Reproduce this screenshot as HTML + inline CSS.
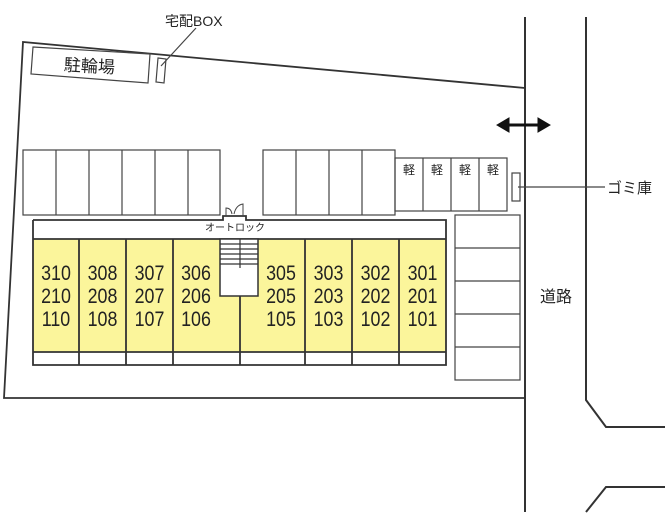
<!DOCTYPE html>
<html><head><meta charset="utf-8"><style>
html,body{margin:0;padding:0;background:#fff;}
svg{display:block;}
text{font-family:"Liberation Sans","Noto Sans CJK JP",sans-serif;fill:#222;}
</style></head><body>
<svg width="670" height="525" viewBox="0 0 670 525" xmlns="http://www.w3.org/2000/svg">
<g fill="none" stroke="#333" stroke-width="2">
<line x1="525" y1="17" x2="525" y2="512"/>
<polyline points="586,17 586,400 606,427 665,427"/>
<polyline points="586,512 606,487 665,487"/>
<polyline points="525,88 23,42 4,398 525,398" stroke-width="1.8"/>
</g>
<g fill="none" stroke="#444" stroke-width="1.2">
<polygon points="33,47 150,54 148,83 31,74"/>
<polygon points="158,58 166,59 164,83 156,82"/>
<line x1="196" y1="28" x2="161" y2="66"/>
<rect x="23" y="150" width="197" height="65"/>
<line x1="56" y1="150" x2="56" y2="215"/><line x1="89" y1="150" x2="89" y2="215"/>
<line x1="122" y1="150" x2="122" y2="215"/><line x1="155" y1="150" x2="155" y2="215"/>
<line x1="188" y1="150" x2="188" y2="215"/>
<rect x="263" y="150" width="132" height="65"/>
<line x1="296" y1="150" x2="296" y2="215"/><line x1="329" y1="150" x2="329" y2="215"/>
<line x1="362" y1="150" x2="362" y2="215"/>
<rect x="395" y="158" width="112" height="53"/>
<line x1="423" y1="158" x2="423" y2="211"/><line x1="451" y1="158" x2="451" y2="211"/>
<line x1="479" y1="158" x2="479" y2="211"/>
<rect x="512" y="173" width="8" height="28"/>
<line x1="518" y1="187" x2="605" y2="187"/>
<rect x="455" y="215" width="65" height="165"/>
<line x1="455" y1="248" x2="520" y2="248"/><line x1="455" y1="281" x2="520" y2="281"/>
<line x1="455" y1="314" x2="520" y2="314"/><line x1="455" y1="347" x2="520" y2="347"/>
</g>
<rect x="33" y="239" width="413" height="113" fill="#fbf59b"/>
<g fill="none" stroke="#333" stroke-width="1.8">
<polyline points="33,220 223,220 223,216 246,216 246,220 446,220 446,365 33,365 33,220"/>
<line x1="33" y1="239" x2="446" y2="239"/>
<line x1="33" y1="352" x2="446" y2="352"/>
<line x1="79" y1="239" x2="79" y2="365"/><line x1="126" y1="239" x2="126" y2="365"/>
<line x1="173" y1="239" x2="173" y2="365"/><line x1="240" y1="296" x2="240" y2="365"/>
<line x1="305" y1="239" x2="305" y2="365"/><line x1="352" y1="239" x2="352" y2="365"/>
<line x1="399" y1="239" x2="399" y2="365"/>
</g>
<rect x="220" y="239" width="38" height="57" fill="#fff" stroke="#333" stroke-width="1.5"/>
<g stroke="#333" stroke-width="1.2">
<line x1="220" y1="244" x2="258" y2="244"/><line x1="220" y1="249" x2="258" y2="249"/>
<line x1="220" y1="254" x2="258" y2="254"/><line x1="220" y1="259" x2="258" y2="259"/>
<line x1="220" y1="264" x2="258" y2="264"/><line x1="240" y1="239" x2="240" y2="268"/>
</g>
<g fill="none" stroke="#444" stroke-width="1">
<path d="M226,216 L226,208 Q231,208 232,214"/><path d="M234,214 Q236,205 243,204 L243,216"/>
</g>
<g fill="#111" stroke="#111">
<line x1="505" y1="125" x2="542" y2="125" stroke-width="3"/>
<polygon points="497,125 509,118 509,132"/><polygon points="550,125 538,118 538,132"/>
</g>
<text x="165" y="26" font-size="14">宅配BOX</text>
<text x="64" y="72" font-size="17" transform="rotate(3 90 65)">駐輪場</text>
<g font-size="12" text-anchor="middle">
<text x="409" y="174">軽</text><text x="437" y="174">軽</text><text x="465" y="174">軽</text><text x="493" y="174">軽</text>
</g>
<text x="607" y="193" font-size="15">ゴミ庫</text>
<text x="540" y="302" font-size="16">道路</text>
<text x="235" y="231" font-size="10" text-anchor="middle">オートロック</text>
<g font-size="21" text-anchor="middle" fill="#222">
<g transform="translate(56,0) scale(0.85,1)"><text x="0" y="280">310</text><text x="0" y="303">210</text><text x="0" y="326">110</text></g>
<g transform="translate(102.5,0) scale(0.85,1)"><text x="0" y="280">308</text><text x="0" y="303">208</text><text x="0" y="326">108</text></g>
<g transform="translate(149.5,0) scale(0.85,1)"><text x="0" y="280">307</text><text x="0" y="303">207</text><text x="0" y="326">107</text></g>
<g transform="translate(196,0) scale(0.85,1)"><text x="0" y="280">306</text><text x="0" y="303">206</text><text x="0" y="326">106</text></g>
<g transform="translate(281,0) scale(0.85,1)"><text x="0" y="280">305</text><text x="0" y="303">205</text><text x="0" y="326">105</text></g>
<g transform="translate(328.5,0) scale(0.85,1)"><text x="0" y="280">303</text><text x="0" y="303">203</text><text x="0" y="326">103</text></g>
<g transform="translate(375.5,0) scale(0.85,1)"><text x="0" y="280">302</text><text x="0" y="303">202</text><text x="0" y="326">102</text></g>
<g transform="translate(422.5,0) scale(0.85,1)"><text x="0" y="280">301</text><text x="0" y="303">201</text><text x="0" y="326">101</text></g>
</g>
</svg>
</body></html>
